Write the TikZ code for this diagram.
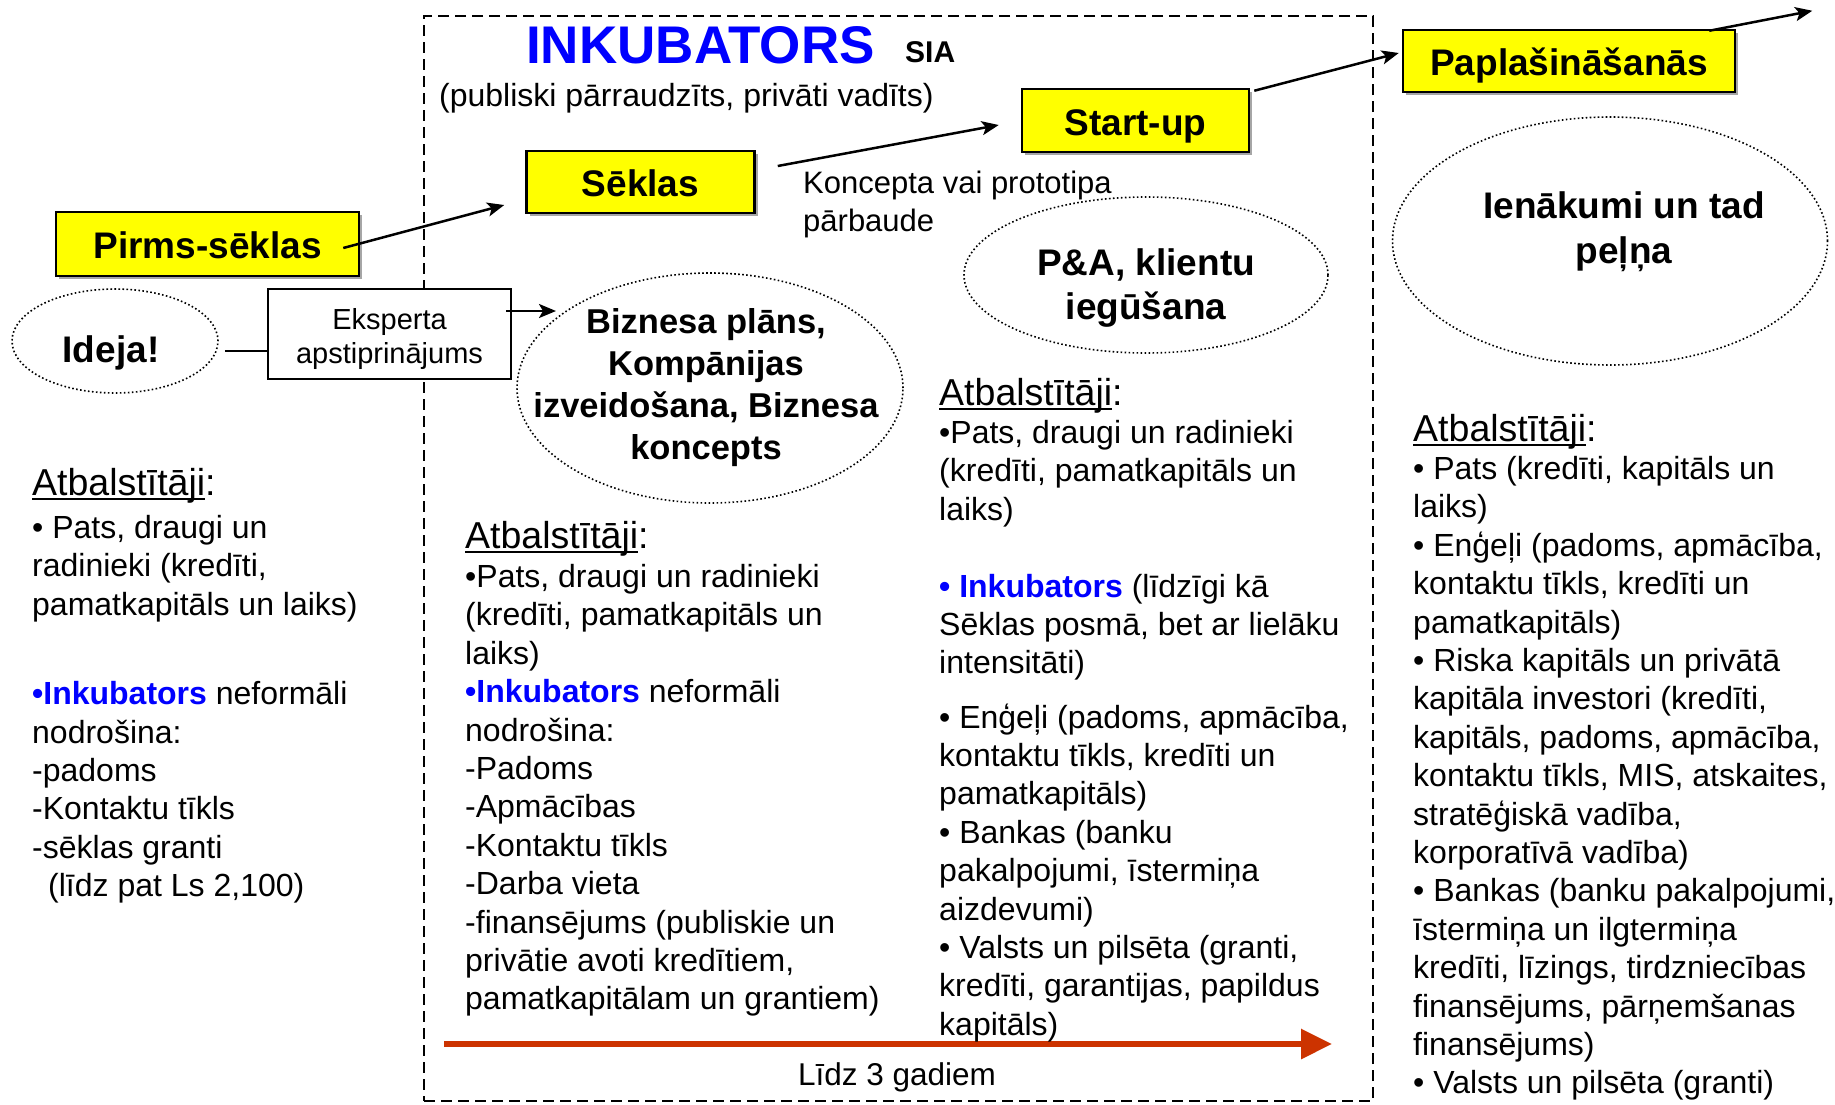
\documentclass[tikz,border=0pt]{standalone}
\usepackage{fontspec}
\setmainfont{Liberation Sans}
\usetikzlibrary{arrows.meta,shapes.geometric}
\definecolor{inkblue}{RGB}{0,0,255}
\definecolor{timered}{RGB}{204,51,0}
\definecolor{stageyellow}{RGB}{255,255,0}
\newsavebox\ulbox
\newcommand\ulword[1]{\sbox\ulbox{#1}\rlap{\rule[-5pt]{\wd\ulbox}{2.5pt}}\usebox\ulbox}
\newcommand\fsz[2]{\fontsize{#1}{#2}\selectfont}
\newcommand\inkb[1]{\textcolor{inkblue}{\bfseries #1}}
\begin{document}
\begin{tikzpicture}[x=1pt,y=-1pt,
  stage/.style={draw=black,line width=2.5pt,fill=stageyellow,font=\fsz{37}{44}\bfseries,inner sep=0pt,text height=31pt,text depth=2pt},
  bubble/.style={draw=black,ellipse,line width=1.6pt,dash pattern=on 1.6pt off 2.4pt,inner sep=0pt},
  bubtext/.style={align=center,inner sep=0pt,font=\fsz{37}{43}\bfseries},
  flow/.style={-{Stealth[length=17pt,width=14pt,inset=4pt]},line width=2.5pt},
  link/.style={line width=2.5pt},
  body/.style={anchor=north west,align=left,inner sep=0pt,font=\fsz{32}{38.4}},
  hdr/.style={anchor=base west,inner sep=0pt,font=\fsz{37.5}{44}}
]
\useasboundingbox (0,0) rectangle (1835,1104);
\fill[white] (0,0) rectangle (1835,1104);

% incubator frame
\node[draw=black,line width=2pt,dash pattern=on 11pt off 6pt,inner sep=0pt,outer sep=0pt,
      minimum width=949pt,minimum height=1085pt,anchor=north west] (inc) at (424,16) {};

% title
\node[anchor=base west,inner sep=0pt,text=inkblue,font=\fsz{53}{60}\bfseries] (title) at (526,63) {INKUBATORS};
\node[anchor=base west,inner sep=0pt,font=\fsz{30}{34}\bfseries] (sia) at (905,62) {SIA};
\node[anchor=base west,inner sep=0pt,font=\fsz{32}{38}] (sub) at (439,106) {(publiski pārraudzīts, privāti vadīts)};

% stage boxes (with a faint shadow)
\foreach \n/\cx/\cy/\w/\h in {s/207.5/244/303/64, s/640.5/182/228/62, s/1135.5/120.5/227/63, s/1569/61/332/62}
  \fill[black!35] (\cx-\w/2+3,\cy-\h/2+3) rectangle (\cx+\w/2+3,\cy+\h/2+3);
\node[stage,minimum width=303pt,minimum height=64pt] (pirms) at (207.5,244) {Pirms-sēklas};
\node[stage,minimum width=228pt,minimum height=62pt] (seklas) at (640.5,182) {Sēklas};
\node[stage,minimum width=227pt,minimum height=63pt] (startup) at (1135.5,120.5) {Start-up};
\node[stage,minimum width=332pt,minimum height=62pt] (papl) at (1569,61) {Paplašināšanās};

% bubbles
\node[bubble,minimum width=206pt,minimum height=104pt] (ideja) at (115,341) {};
\node[bubble,minimum width=386pt,minimum height=230pt] (biz) at (710,388) {};
\node[bubble,minimum width=364pt,minimum height=156pt] (pa) at (1146,275) {};
\node[bubble,minimum width=435pt,minimum height=248pt] (ien) at (1610,241) {};

\node[anchor=base,inner sep=0pt,font=\fsz{37}{42}\bfseries] (idejat) at (111,362) {Ideja!};
\node[bubtext,font=\fsz{34.5}{42}\bfseries] (bizt) at (706,388) {Biznesa plāns,\\Kompānijas\\izveidošana, Biznesa\\koncepts};
\node[bubtext,font=\fsz{37}{44}\bfseries] (pat) at (1146,288) {P\&A, klientu\\iegūšana};
\node[bubtext,font=\fsz{37}{45}\bfseries] (ient) at (1624,232) {Ienākumi un tad\\peļņa};

% expert box
\node[draw=black,line width=2pt,fill=white,minimum width=243pt,minimum height=90pt,
      align=center,inner sep=0pt,font=\fsz{29}{34}] (eksp) at (389.5,334) {};
\node[align=center,inner sep=0pt,font=\fsz{29}{34}] (ekspt) at (389.5,339) {Eksperta\\apstiprinājums};

\node[anchor=north west,align=left,inner sep=0pt,font=\fsz{31}{38}] (konc) at (803,171) {Koncepta vai prototipa\\pārbaude};

% connectors
\coordinate (ij) at ([xshift=6pt,yshift=-10pt]ideja.east);
\draw[link] (ij) -- (ij -| eksp.west);
\coordinate (ea) at ([xshift=-6pt,yshift=23pt]eksp.east);
\coordinate (eb) at ([xshift=50pt]ea);
\draw[flow] (ea) -- (eb);

\coordinate (p1) at ([xshift=-17pt,yshift=-4pt]pirms.east);
\coordinate (p2) at ([xshift=-21pt,yshift=-23pt]seklas.west);
\draw[flow] (p1) -- (p2);
\coordinate (s1) at ([xshift=22pt,yshift=16pt]seklas.east);
\coordinate (s2) at ([xshift=-22pt,yshift=-4.5pt]startup.west);
\draw[flow] (s1) -- (s2);
\coordinate (u1) at ([xshift=4pt,yshift=-3pt]startup.north east);
\coordinate (u2) at ([xshift=-3pt,yshift=8pt]papl.west);
\draw[flow] (u1) -- (u2);
\coordinate (q1) at ([xshift=-27pt,yshift=-2pt]papl.north east);
\coordinate (q2) at ([xshift=103pt,yshift=20pt]q1);
\draw[flow] (q1) -- (q2);

% time arrow
\coordinate (r1) at (444,1044);
\coordinate (r2) at (1332,1044);
\draw[timered,line width=6pt,-{Triangle[length=31pt,width=29pt]}] (r1) -- (r2);
\node[anchor=base,inner sep=0pt,font=\fsz{31.5}{36}] (lidz) at (897,1085) {Līdz 3 gadiem};

% columns
\node[hdr] (h1) at (32,495) {\ulword{Atbalstītāji}:};
\node[body] (c1) at (32,515) {• Pats, draugi un\\radinieki (kredīti,\\pamatkapitāls un laiks)\\[51pt]\inkb{•Inkubators} neformāli\\nodrošina:\\-padoms\\-Kontaktu tīkls\\-sēklas granti\\\hspace*{16pt}(līdz pat Ls 2,100)};

\node[hdr] (h2) at (465,548) {\ulword{Atbalstītāji}:};
\node[body] (c2) at (465,564) {•Pats, draugi un radinieki\\(kredīti, pamatkapitāls un\\laiks)\\\inkb{•Inkubators} neformāli\\nodrošina:\\-Padoms\\-Apmācības\\-Kontaktu tīkls\\-Darba vieta\\-finansējums (publiskie un\\privātie avoti kredītiem,\\pamatkapitālam un grantiem)};

\node[hdr] (h3) at (939,405) {\ulword{Atbalstītāji}:};
\node[body] (c3) at (939,420) {•Pats, draugi un radinieki\\(kredīti, pamatkapitāls un\\laiks)\\[38.4pt]\inkb{• Inkubators} (līdzīgi kā\\Sēklas posmā, bet ar lielāku\\intensitāti)\\[15.8pt]• Enģeļi (padoms, apmācība,\\kontaktu tīkls, kredīti un\\pamatkapitāls)\\• Bankas (banku\\pakalpojumi, īstermiņa\\aizdevumi)\\• Valsts un pilsēta (granti,\\kredīti, garantijas, papildus\\kapitāls)};

\node[hdr] (h4) at (1413,441) {\ulword{Atbalstītāji}:};
\node[body] (c4) at (1413,456) {• Pats (kredīti, kapitāls un\\laiks)\\• Enģeļi (padoms, apmācība,\\kontaktu tīkls, kredīti un\\pamatkapitāls)\\• Riska kapitāls un privātā\\kapitāla investori (kredīti,\\kapitāls, padoms, apmācība,\\kontaktu tīkls, MIS, atskaites,\\stratēģiskā vadība,\\korporatīvā vadība)\\• Bankas (banku pakalpojumi,\\īstermiņa un ilgtermiņa\\kredīti, līzings, tirdzniecības\\finansējums, pārņemšanas\\finansējums)\\• Valsts un pilsēta (granti)};
\end{tikzpicture}
\end{document}
